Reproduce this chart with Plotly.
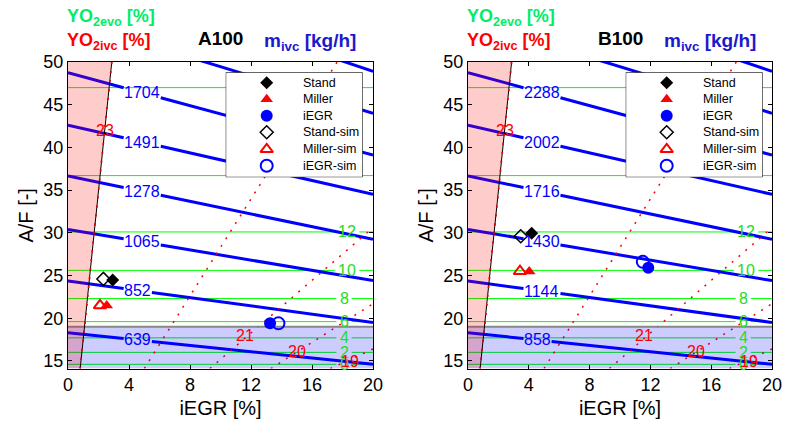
import plotly.graph_objects as go

W, H = 786, 425
FONT = "Arial, Liberation Sans, sans-serif"

# ---------------- data ----------------
egr_range = [0, 20]
af_range = [14.1, 50]

# m_ivc contour lines (straight): A/F at iEGR = 0 % and at iEGR = 20 %
mivc_af_at0 = [18.3, 24.36, 30.4, 36.65, 42.6, 48.75, 54.9, 61.0]
mivc_af_at20 = [14.6, 19.5, 24.4, 29.24, 34.5, 39.1, 44.0, 48.9]
mivc_levels_A = [639, 852, 1065, 1278, 1491, 1704, 1917, 2130]
mivc_levels_B = [858, 1144, 1430, 1716, 2002, 2288, 2574, 2860]
mivc_label_show = [True, True, True, True, True, True, False, False]

# YO2evo contour lines (horizontal)
yo2evo_levels = [0, 2, 4, 6, 8, 10, 12, 14, 16]
yo2evo_af = [14.6, 16.0, 17.7, 19.6, 22.3, 25.6, 30.1, 36.7, 47.0]
yo2evo_label_show = [True, True, True, True, True, True, True, False, False]

# YO2ivc contour lines: end points (iEGR, A/F)
yo2ivc_levels = [23, 22, 21, 20, 19]
yo2ivc_x0 = [0.8, 5.0, 9.3, 13.3, 17.2]
yo2ivc_y0 = [14.1, 14.1, 14.1, 14.1, 14.1]
yo2ivc_x1 = [2.87, 17.65, 20.0, 20.0, 20.0]
yo2ivc_y1 = [50.0, 50.0, 30.6, 21.7, 16.4]
yo2ivc_label_x = [2.43, None, 11.6, 15.0, 18.5]
yo2ivc_label_y = [42.0, None, 18.0, 16.1, 14.9]

# limit region (A/F below this is shaded)
af_limit = 19.0

# operating points
series_names = ["Stand", "Miller", "iEGR", "Stand-sim", "Miller-sim", "iEGR-sim"]
A100_egr = [2.93, 2.54, 13.25, 2.32, 2.10, 13.8]
A100_af = [24.47, 21.5, 19.4, 24.6, 21.5, 19.4]
B100_egr = [4.19, 4.03, 11.86, 3.47, 3.42, 11.5]
B100_af = [29.94, 25.47, 25.9, 29.6, 25.5, 26.6]

fuels = ["A100", "B100"]

# ---------------- styles ----------------
BLUE = "#0000ff"
GREEN_LINE = "#00ff00"
GREEN_TXT = "#22dd22"
RED = "#ff0000"
marker_styles = [
    dict(symbol="diamond", color="black", size=10, line=dict(width=0)),
    dict(symbol="triangle-up", color=RED, size=11, line=dict(width=0)),
    dict(symbol="circle", color=BLUE, size=12, line=dict(width=0)),
    dict(symbol="diamond-open", color="black", size=10, line=dict(width=1.5, color="black")),
    dict(symbol="triangle-up-open", color=RED, size=11, line=dict(width=2, color=RED)),
    dict(symbol="circle-open", color=BLUE, size=12, line=dict(width=2, color=BLUE)),
]

x_dom = [[68 / W, 373 / W], [468 / W, 772 / W]]
y_dom = [1 - 368.6 / H, 1 - 62 / H]
# legend boxes (pixels): left, top, width, height
leg_box = [(225.7, 72.3), (625.7, 72.3)]
LEG_W, LEG_H = 137.0, 105.0
leg_rows = [10.4, 27.0, 43.4, 60.0, 77.0, 93.4]

fig = go.Figure()
annotations = []


def lin(x, xa, ya, xb, yb):
    return ya + (yb - ya) * (x - xa) / (xb - xa)


def add_line(xs, ys, xa, ya, **line):
    fig.add_trace(go.Scatter(x=xs, y=ys, mode="lines", xaxis=xa, yaxis=ya, line=line,
                             showlegend=False, hoverinfo="skip"))


for k, fuel in enumerate(fuels):
    xa = "x" if k == 0 else "x2"
    ya = "y" if k == 0 else "y2"
    levels = mivc_levels_A if k == 0 else mivc_levels_B
    egr = A100_egr if k == 0 else B100_egr
    af = A100_af if k == 0 else B100_af

    # green YO2evo lines with a gap for the label
    for lev, yv, show in zip(yo2evo_levels, yo2evo_af, yo2evo_label_show):
        lx = 18.3 if lev >= 10 else 18.1
        half = 0.2 + 0.3 * len(str(lev))
        segs = [[egr_range[0], lx - half], [lx + half, egr_range[1]]] if show else [egr_range]
        for xs in segs:
            add_line(xs, [yv, yv], xa, ya, color=GREEN_LINE, width=1)
        if show:
            annotations.append(dict(x=lx, y=yv, xref=xa, yref=ya, text=str(lev), showarrow=False,
                                    font=dict(family=FONT, size=16, color=GREEN_TXT)))

    # blue m_ivc lines
    for lev, a0, a20, show in zip(levels, mivc_af_at0, mivc_af_at20, mivc_label_show):
        if show:
            tw = len(str(lev)) * 0.556 * 16 / 15.25
            g0, g1 = 3.65, 3.65 + tw + 0.1
            for xs in ([0, g0], [g1, 20]):
                add_line(xs, [lin(v, 0, a0, 20, a20) for v in xs], xa, ya, color=BLUE, width=3)
            cx = 3.65 + tw / 2 + 0.05
            annotations.append(dict(x=cx, y=lin(cx, 0, a0, 20, a20), xref=xa, yref=ya, text=str(lev),
                                    showarrow=False, font=dict(family=FONT, size=16, color=BLUE)))
        else:
            add_line([0, 20], [a0, a20], xa, ya, color=BLUE, width=3)

    # red YO2ivc dotted lines
    for lev, x0, y0, x1, y1, lx, ly in zip(yo2ivc_levels, yo2ivc_x0, yo2ivc_y0, yo2ivc_x1, yo2ivc_y1,
                                           yo2ivc_label_x, yo2ivc_label_y):
        add_line([x0, x1], [y0, y1], xa, ya, color=RED, width=1.5, dash="2px,7px")
        if lx is not None:
            annotations.append(dict(x=lx, y=ly, xref=xa, yref=ya, text=str(lev), showarrow=False,
                                    font=dict(family=FONT, size=16, color=RED)))

    # shaded regions
    fig.add_trace(go.Scatter(x=[0, 20, 20, 0, 0], y=[af_range[0], af_range[0], af_limit, af_limit, af_range[0]],
                             mode="lines", fill="toself", fillcolor="rgba(0,0,255,0.2)",
                             line=dict(width=0), xaxis=xa, yaxis=ya, showlegend=False, hoverinfo="skip"))
    add_line([0, 20], [af_limit, af_limit], xa, ya, color="#888888", width=2)
    fig.add_trace(go.Scatter(x=[0, yo2ivc_x0[0], yo2ivc_x1[0], 0, 0],
                             y=[yo2ivc_y0[0], yo2ivc_y0[0], yo2ivc_y1[0], yo2ivc_y1[0], yo2ivc_y0[0]],
                             mode="lines", fill="toself", fillcolor="rgba(255,0,0,0.2)",
                             line=dict(width=0), xaxis=xa, yaxis=ya, showlegend=False, hoverinfo="skip"))
    add_line([yo2ivc_x0[0], yo2ivc_x1[0]], [yo2ivc_y0[0], yo2ivc_y1[0]], xa, ya, color="black", width=1)
    add_line([yo2ivc_x0[0], yo2ivc_x1[0]], [yo2ivc_y0[0], yo2ivc_y1[0]], xa, ya,
             color=RED, width=1.5, dash="2px,7px")

    # operating points
    for name, xv, yv, ms in zip(series_names, egr, af, marker_styles):
        fig.add_trace(go.Scatter(x=[xv], y=[yv], mode="markers", name=fuel + " " + name,
                                 xaxis=xa, yaxis=ya, marker=ms, showlegend=False))

    # header texts
    x0p = x_dom[k][0] - 3 / W
    annotations += [
        dict(x=x0p, y=1 - 17 / H, xref="paper", yref="paper", xanchor="left", yanchor="middle",
             text="<b>YO<sub>2evo</sub> [%]</b>", showarrow=False,
             font=dict(family=FONT, size=18, color="#00ee66")),
        dict(x=x0p, y=1 - 41.5 / H, xref="paper", yref="paper", xanchor="left", yanchor="middle",
             text="<b>YO<sub>2ivc</sub> [%]</b>", showarrow=False,
             font=dict(family=FONT, size=18, color=RED)),
        dict(x=x_dom[k][0] + 152 / W, y=1 - 38.5 / H, xref="paper", yref="paper", xanchor="center",
             yanchor="middle", text="<b>" + fuel + "</b>", showarrow=False,
             font=dict(family=FONT, size=19, color="black")),
        dict(x=x0p + 197 / W, y=1 - 41.5 / H, xref="paper", yref="paper", xanchor="left", yanchor="middle",
             text="<b>m<sub>ivc</sub> [kg/h]</b>", showarrow=False,
             font=dict(family=FONT, size=19, color="#1a1acc")),
    ]

# ---------------- legends (drawn in their own small axes) ----------------
for k in range(2):
    lxa = "x3" if k == 0 else "x4"
    lya = "y3" if k == 0 else "y4"
    fig.add_trace(go.Scatter(x=[0, LEG_W, LEG_W, 0, 0], y=[0, 0, LEG_H, LEG_H, 0], mode="lines",
                             fill="toself", fillcolor="white", line=dict(color="black", width=1),
                             xaxis=lxa, yaxis=lya, showlegend=False, hoverinfo="skip", cliponaxis=False))
    for name, ms, ry in zip(series_names, marker_styles, leg_rows):
        fig.add_trace(go.Scatter(x=[41], y=[ry], mode="markers", marker=ms, name=name,
                                 xaxis=lxa, yaxis=lya, showlegend=False, hoverinfo="skip", cliponaxis=False))
        annotations.append(dict(x=75, y=ry, xref=lxa, yref=lya, xanchor="left", yanchor="middle",
                                text=name, showarrow=False, font=dict(family=FONT, size=12.5, color="black")))

axis_common = dict(showgrid=False, zeroline=False, showline=True, linecolor="black", linewidth=1,
                   mirror="ticks", ticks="inside", ticklen=4, tickcolor="black", automargin=False,
                   tickfont=dict(family=FONT, size=18, color="black"))
hidden = dict(visible=False, showgrid=False, zeroline=False, fixedrange=True, automargin=False)
title_font = dict(family=FONT, size=20, color="black")


def leg_dom(k):
    lx, ly = leg_box[k]
    return [lx / W, (lx + LEG_W) / W], [1 - (ly + LEG_H) / H, 1 - ly / H]


fig.update_layout(
    width=W, height=H, margin=dict(l=0, r=0, t=0, b=0, autoexpand=False),
    paper_bgcolor="white", plot_bgcolor="rgba(0,0,0,0)",
    xaxis=dict(domain=x_dom[0], range=egr_range, anchor="y", tickvals=[0, 4, 8, 12, 16, 20],
               title=dict(text="iEGR [%]", font=title_font, standoff=6), **axis_common),
    yaxis=dict(domain=y_dom, range=af_range, anchor="x", tickvals=[15, 20, 25, 30, 35, 40, 45, 50],
               title=dict(text="A/F [-]", font=title_font, standoff=4), **axis_common),
    xaxis2=dict(domain=x_dom[1], range=egr_range, anchor="y2", tickvals=[0, 4, 8, 12, 16, 20],
                title=dict(text="iEGR [%]", font=title_font, standoff=6), **axis_common),
    yaxis2=dict(domain=y_dom, range=af_range, anchor="x2", tickvals=[15, 20, 25, 30, 35, 40, 45, 50],
                title=dict(text="A/F [-]", font=title_font, standoff=4), **axis_common),
    xaxis3=dict(domain=leg_dom(0)[0], range=[0, LEG_W], anchor="y3", **hidden),
    yaxis3=dict(domain=leg_dom(0)[1], range=[LEG_H, 0], anchor="x3", **hidden),
    xaxis4=dict(domain=leg_dom(1)[0], range=[0, LEG_W], anchor="y4", **hidden),
    yaxis4=dict(domain=leg_dom(1)[1], range=[LEG_H, 0], anchor="x4", **hidden),
    showlegend=False,
    annotations=annotations,
)

fig.write_html("out.html")
